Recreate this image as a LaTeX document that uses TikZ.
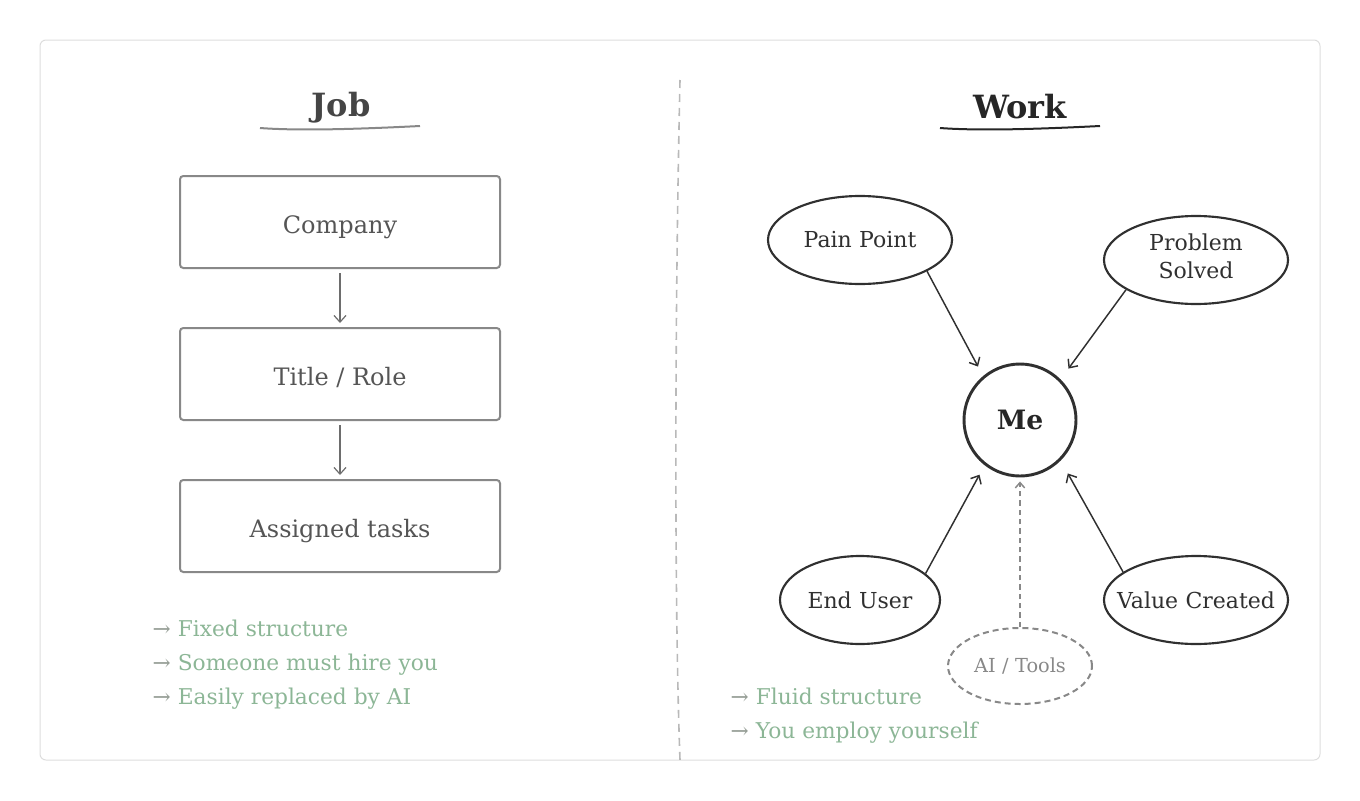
\documentclass[tikz,border=0pt]{standalone}
\usepackage{fontspec}
\setmainfont{DejaVu Serif}
\usetikzlibrary{arrows.meta,shapes.geometric}
\definecolor{boxgray}{RGB}{136,136,136}
\definecolor{txtgray}{RGB}{85,85,85}
\definecolor{inkdark}{RGB}{48,48,48}
\definecolor{sage}{RGB}{140,182,150}
\definecolor{arrowgray}{RGB}{150,158,150}
\definecolor{framegray}{RGB}{221,221,221}
\definecolor{divgray}{RGB}{185,185,185}

\begin{document}
\begin{tikzpicture}[x=0.75pt,y=-0.75pt,
  box/.style={rectangle,rounded corners=2.5pt,draw=boxgray,line width=1.5pt,
              minimum width=240pt,minimum height=69pt,text=txtgray,
              text height=16.5pt,text depth=0pt,
              font=\fontsize{18}{22}\selectfont},
  bubble/.style={ellipse,draw=inkdark,line width=1.6pt,minimum width=138pt,
                 minimum height=66pt,text=inkdark,align=center,
                 text width=130pt,inner xsep=-50pt,inner ysep=0pt,
                 font=\fontsize{16.5}{21}\selectfont},
  title/.style={font=\bfseries\fontsize{24}{28}\selectfont},
  point/.style={anchor=west,text=sage,text height=12pt,text depth=4pt,
                font=\fontsize{16.3}{20}\selectfont},
  flow/.style={-{Straight Barb[length=5pt,width=9pt]},line width=0.9pt,
               shorten <=3pt,shorten >=3pt},
  link/.style={-{Straight Barb[length=5pt,width=9pt]},line width=1.1pt,draw=inkdark}]
\useasboundingbox (0,0) rectangle (1360,800);
\draw[framegray,line width=0.75pt,rounded corners=4.5pt] (40,40) rectangle (1320,760);
\draw[divgray,line width=1.2pt,dash pattern=on 6pt off 4.5pt]
  (680,80) .. controls (675,300) and (674,600) .. (680,760);

% job side
\node[title,text=inkdark!90] (job) at (341,108) {Job};
\draw[boxgray,line width=1.5pt] (260,128) .. controls (300,131) and (360,129) .. (420,126);
\node[box] (company) at (340,222) {Company};
\node[box] (role)    at (340,374) {Title / Role};
\node[box] (tasks)   at (340,526) {Assigned tasks};
\draw[flow,draw=boxgray!80!black] (company) -- (role);
\draw[flow,draw=boxgray!80!black] (role) -- (tasks);
\node[point] (j1) at (148,631) {\textcolor{arrowgray}{→} Fixed structure};
\node[point] (j2) at (148,665) {\textcolor{arrowgray}{→} Someone must hire you};
\node[point] (j3) at (148,699) {\textcolor{arrowgray}{→} Easily replaced by AI};

% work side
\node[title,text=black!85] (work) at (1020,107) {Work};
\draw[black!85,line width=1.5pt] (940,128) .. controls (980,131) and (1040,129) .. (1100,126);
\node[circle,draw=inkdark,line width=2.2pt,minimum size=84pt,text=black!85,
      font=\bfseries\fontsize{20}{24}\selectfont] (me) at (1020,420) {Me};
\node[bubble] (pain)    at (860,240)  {Pain Point};
\node[bubble,text depth=27pt] (solved) at (1196,260) {Problem\\Solved};
\node[bubble,minimum width=120pt] (user) at (860,600) {End User};
\node[bubble] (value)   at (1196,600) {Value Created};
\node[ellipse,draw=boxgray,line width=1.5pt,dash pattern=on 4.5pt off 3pt,
      minimum width=108pt,minimum height=57pt,text=boxgray,
      text width=90pt,align=center,inner xsep=-35pt,inner ysep=0pt,
      font=\fontsize{14.5}{18}\selectfont] (ai) at (1020,666) {AI / Tools};
\draw[link,shorten >=8pt] (pain.-25) -- (me.130);
\draw[link,shorten >=10pt] (solved.203) -- (me.45);
\draw[link,shorten >=8pt] (user.22) -- (me.-128);
\draw[link,shorten >=11pt] (value.159) -- (me.-45);
\draw[-{Straight Barb[length=4pt,width=7pt]},boxgray,line width=1.1pt,
      dash pattern=on 4pt off 3pt,shorten >=3pt] (ai) -- (me);
\node[point] (w1) at (726,699) {\textcolor{arrowgray}{→} Fluid structure};
\node[point] (w2) at (726,733) {\textcolor{arrowgray}{→} You employ yourself};
\end{tikzpicture}
\end{document}
